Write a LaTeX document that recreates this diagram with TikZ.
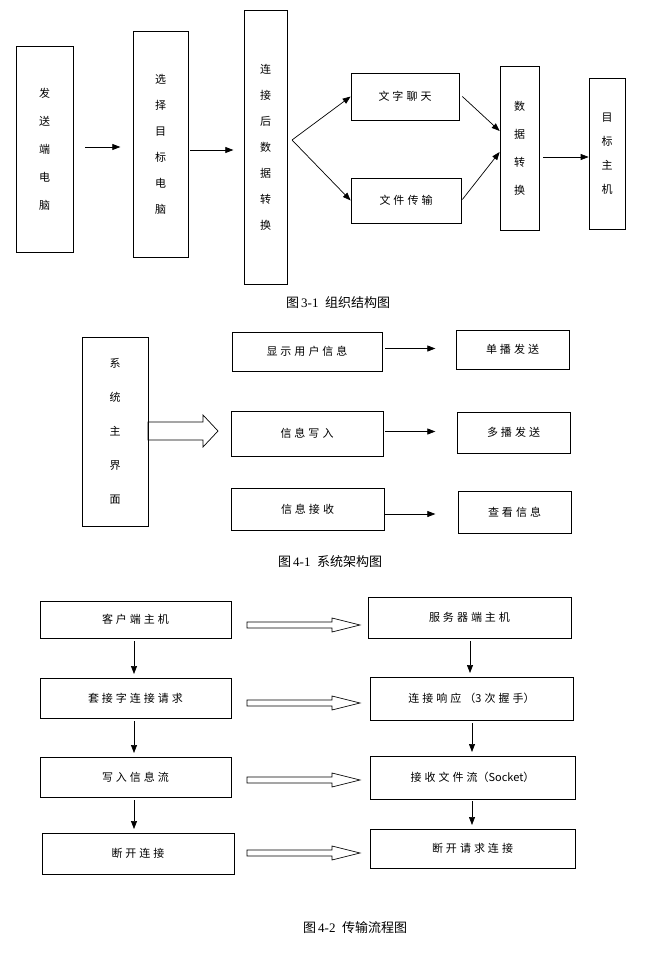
\documentclass[tikz,border=0pt]{standalone}
\usepackage{fontspec}
\setmainfont{Liberation Serif}
\newfontfamily\cjk{Noto Sans CJK SC}
\usetikzlibrary{arrows.meta}
\newcommand{\hollowarrow}[6]{%
 \draw[line width=0.7pt] (#1,#3-#4) -- (#2-#6,#3-#4) -- (#2-#6,#3-#5) -- (#2,#3) -- (#2-#6,#3+#5) -- (#2-#6,#3+#4) -- (#1,#3+#4) -- cycle;}
\newcommand{\g}{\hspace{3pt}}
\begin{document}
\begin{tikzpicture}[x=1pt,y=-1pt,
 bx/.style={draw,line width=0.7pt,inner sep=0pt,font=\cjk\fontsize{11}{12}\selectfont,align=center},
 ar/.style={-{Triangle[length=8pt,width=6pt]},line width=0.7pt},
 captxt/.style={font=\fontsize{13}{15}\selectfont}]
\useasboundingbox (0,0) rectangle (647,955);
% --- figure 3-1
\newcommand{\B}[6]{\node[bx,minimum width=#4-#2,minimum height=#5-#3] (#1) at ({(#2+#4)/2},{(#3+#5)/2}) {#6};}
\B{a}{16}{46}{73}{252}{发\\[16pt]送\\[16pt]端\\[16pt]电\\[16pt]脑}
\B{b}{133}{31}{188}{257}{选\\[14pt]择\\[14pt]目\\[14pt]标\\[14pt]电\\[14pt]脑}
\B{c}{244}{10}{287}{284}{连\\[14pt]接\\[14pt]后\\[14pt]数\\[14pt]据\\[14pt]转\\[14pt]换}
\B{d}{351}{73}{459}{120}{文\g 字\g 聊\g 天}
\B{e}{351}{178}{461}{223}{文\g 件\g 传\g 输}
\B{f}{500}{66}{539}{230}{数\\[16pt]据\\[16pt]转\\[16pt]换}
\B{g}{589}{78}{625}{229}{目\\[12pt]标\\[12pt]主\\[12pt]机}
\draw[ar] (a.east)+(12,-2) -- +(47,-2);
\draw[ar] (b.east)+(2,6) -- +(45,6);
\coordinate (c1) at (292,140);
\draw[ar] (c1) -- (d.west);
\draw[ar] (c1) -- (e.west);
\draw[ar] (d.east)+(3,0) -- (f.west|-0,131);
\draw[ar] (e.east)+(1,-1) -- (f.west|-0,152);
\draw[ar] (f.east)+(4,9) -- (g.west|-0,157);
\node[captxt] (c31) at (338,303) {{\cjk 图}\,3-1\ \ {\cjk 组织结构图}};
% --- figure 4-1
\B{m}{82}{337}{148}{526}{系\\[22pt]统\\[22pt]主\\[22pt]界\\[22pt]面}
\B{n1}{232}{332}{382}{371}{显\g 示\g 用\g 户\g 信\g 息}
\B{n2}{231}{411}{383}{456}{信\g 息\g 写\g 入}
\B{n3}{231}{488}{384}{530}{信\g 息\g 接\g 收}
\B{s1}{456}{330}{569}{369}{单\g 播\g 发\g 送}
\B{s2}{457}{412}{570}{453}{多\g 播\g 发\g 送}
\B{s3}{458}{491}{571}{533}{查\g 看\g 信\g 息}
\draw[ar] (n1.east)+(3,-3) -- +(53,-3);
\draw[ar] (n2.east)+(2,-2) -- +(52,-2);
\draw[ar] (n3.east)+(1,5) -- +(51,5);
\hollowarrow{148}{218}{431}{9}{16}{15}
\node[captxt] (c41) at (330,562) {{\cjk 图}\,4-1\ \ {\cjk 系统架构图}};
% --- figure 4-2
\B{l1}{40}{601}{231}{638}{客\g 户\g 端\g 主\g 机}
\B{l2}{40}{678}{231}{718}{套\g 接\g 字\g 连\g 接\g 请\g 求}
\B{l3}{40}{757}{231}{797}{写\g 入\g 信\g 息\g 流}
\B{l4}{42}{833}{234}{874}{断\g 开\g 连\g 接}
\B{r1}{368}{597}{571}{638}{服\g 务\g 器\g 端\g 主\g 机}
\B{r2}{370}{677}{573}{720}{连\g 接\g 响\g 应\g （3\g 次\g 握\g 手）}
\B{r3}{370}{756}{575}{799}{接\g 收\g 文\g 件\g 流（Socket）}
\B{r4}{370}{829}{575}{868}{断\g 开\g 请\g 求\g 连\g 接}
\draw[ar] (134,641) -- (134,674);
\draw[ar] (134,721) -- (134,753);
\draw[ar] (134,800) -- (134,829);
\draw[ar] (470,641) -- (470,673);
\draw[ar] (472,723) -- (472,752);
\draw[ar] (472,801) -- (472,825);
\hollowarrow{247}{360}{625}{3}{7}{28}
\hollowarrow{247}{360}{703}{3}{7}{28}
\hollowarrow{247}{360}{780}{3}{7}{28}
\hollowarrow{247}{360}{853}{3}{7}{28}
\node[captxt] (c42) at (355,928) {{\cjk 图}\,4-2\ \ {\cjk 传输流程图}};
\end{tikzpicture}
\end{document}
